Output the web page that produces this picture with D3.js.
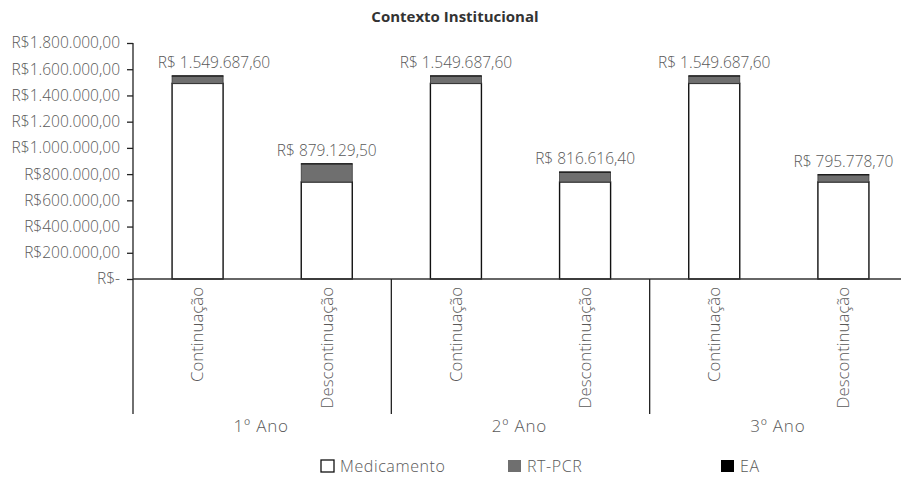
<!DOCTYPE html>
<html>
<head>
<meta charset="utf-8">
<script src="https://cdn.jsdelivr.net/npm/d3@7"></script>
<style>
  html, body { margin: 0; padding: 0; background: #fff; }
  svg { display: block; font-family: "Open Sans", "Noto Sans", sans-serif; }
</style>
</head>
<body>
<svg id="chart" width="901" height="477"></svg>
<script>
// Cost per strategy and year (R$)
const years = ["1º Ano", "2º Ano", "3º Ano"];
const strategies = ["Continuação", "Descontinuação"];
const medicamento = [1492000.00, 740000.00, 1492000.00, 740000.00, 1492000.00, 740000.00];
const rtpcr       = [56187.60, 137629.50, 56187.60, 75116.40, 56187.60, 54278.70];
const ea          = [1500.00, 1500.00, 1500.00, 1500.00, 1500.00, 1500.00];
const seriesNames = ["Medicamento", "RT-PCR", "EA"];
const yTicks = [0, 200000, 400000, 600000, 800000, 1000000, 1200000, 1400000, 1600000, 1800000];

const colors = { "Medicamento": "#ffffff", "RT-PCR": "#6f6f6f", "EA": "#000000" };
const strokes = { "Medicamento": "#111", "RT-PCR": "#3a3a3a", "EA": "#000" };
const textColor = "#595959";

const rows = [];
years.forEach((yr, i) => strategies.forEach((st, j) => {
  const k = i * strategies.length + j;
  rows.push({ year: yr, strategy: st, "Medicamento": medicamento[k], "RT-PCR": rtpcr[k], "EA": ea[k] });
}));
const total = d => seriesNames.reduce((s, k) => s + d[k], 0);

const ptBR = d3.formatLocale({ decimal: ",", thousands: ".", grouping: [3], currency: ["R$", ""] });
const fmt2 = ptBR.format(",.2f");

const svg = d3.select("#chart");
const plotLeft = 133, plotRight = 908, plotTop = 43, base = 279, bottomExt = 414;

const y = d3.scaleLinear().domain([0, 1800000]).range([base, plotTop]);
const x0 = d3.scaleBand().domain(years).range([plotLeft, plotRight]).padding(0);
const x1 = d3.scaleBand().domain(strategies).range([0, x0.bandwidth()])
  .paddingInner(0.605).paddingOuter(0.3025);
const cx = d => x0(d.year) + x1(d.strategy) + x1.bandwidth() / 2;

const stacked = d3.stack().keys(seriesNames)(rows);

// Title
svg.append("text").attr("x", 455).attr("y", 22).attr("text-anchor", "middle")
  .attr("font-size", 15).attr("font-weight", 700).attr("fill", "#333")
  .text("Contexto Institucional");

// Y axis
const yAxis = d3.axisLeft(y).tickValues(yTicks).tickSize(6).tickSizeOuter(0).tickPadding(7)
  .tickFormat(d => d === 0 ? "R$-" : "R$" + fmt2(d));
const gy = svg.append("g").attr("transform", `translate(${plotLeft},0)`).call(yAxis);
gy.select(".domain").remove();
gy.selectAll(".tick line").attr("stroke", "#222").attr("stroke-width", 1.3);
gy.selectAll(".tick text").attr("fill", textColor).attr("font-size", 15.5).attr("font-weight", 300)
  .attr("font-family", "'Open Sans', 'Noto Sans', sans-serif");

// Bars
const gBars = svg.append("g");
stacked.forEach(layer => {
  gBars.selectAll(null).data(layer).join("rect")
    .attr("x", d => x0(d.data.year) + x1(d.data.strategy))
    .attr("width", x1.bandwidth())
    .attr("y", d => y(d[1]))
    .attr("height", d => y(d[0]) - y(d[1]))
    .attr("fill", colors[layer.key])
    .attr("stroke", strokes[layer.key])
    .attr("stroke-width", layer.key === "Medicamento" ? 1.4 : 0.8);
});

// Total labels
svg.append("g").selectAll("text").data(rows).join("text")
  .attr("x", d => Math.max(cx(d), plotLeft + 81))
  .attr("y", d => y(total(d)) - 8)
  .attr("text-anchor", "middle").attr("font-size", 15.5).attr("font-weight", 300).attr("fill", textColor)
  .text(d => "R$ " + fmt2(total(d)));

// Axis frame: vertical axis, baseline, group separators
svg.append("line").attr("x1", plotLeft).attr("x2", plotLeft).attr("y1", plotTop).attr("y2", bottomExt)
  .attr("stroke", "#222").attr("stroke-width", 1.3);
svg.append("line").attr("x1", plotLeft).attr("x2", plotRight).attr("y1", base).attr("y2", base)
  .attr("stroke", "#333").attr("stroke-width", 1.3);
svg.append("g").selectAll("line").data(years.slice(1)).join("line")
  .attr("x1", d => x0(d)).attr("x2", d => x0(d)).attr("y1", base).attr("y2", bottomExt)
  .attr("stroke", "#222").attr("stroke-width", 1.3);

// Category labels (rotated)
svg.append("g").selectAll("text").data(rows).join("text")
  .attr("transform", d => `translate(${cx(d)},287) rotate(-90)`)
  .attr("text-anchor", "end").attr("dy", "0.35em")
  .attr("font-size", 16.8).attr("font-weight", 300).attr("fill", textColor)
  .text(d => d.strategy);

// Year labels
svg.append("g").selectAll("text").data(years).join("text")
  .attr("x", d => x0(d) + x0.bandwidth() / 2 - 1).attr("y", 432)
  .attr("text-anchor", "middle").attr("font-size", 17).attr("font-weight", 300).attr("fill", textColor)
  .attr("letter-spacing", 0.8)
  .text(d => d);

// Legend
const legendX = [321, 508, 721];
const lg = svg.append("g").selectAll("g").data(seriesNames).join("g")
  .attr("transform", (d, i) => `translate(${legendX[i]},460)`);
lg.append("rect").attr("width", 13).attr("height", 12)
  .attr("fill", d => colors[d])
  .attr("stroke", d => d === "Medicamento" ? "#111" : "none").attr("stroke-width", 1.3);
lg.append("text").attr("x", 19).attr("y", 12)
  .attr("font-size", 16).attr("font-weight", 300).attr("fill", textColor)
  .attr("letter-spacing", 0.6)
  .text(d => d);
</script>
</body>
</html>
